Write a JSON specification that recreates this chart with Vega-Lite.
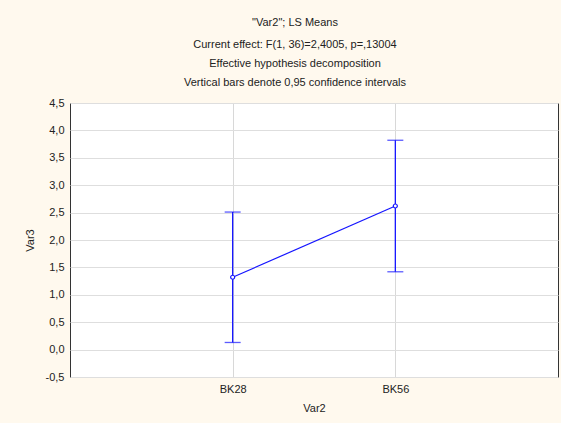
{
  "$schema": "https://vega.github.io/schema/vega-lite/v6.json",
  "width": 488,
  "height": 274,
  "autosize": {"type": "none"},
  "padding": {"left": 70, "top": 103, "right": 3, "bottom": 46},
  "background": "#FFF9EE",
  "config": {
    "locale": {"number": {"decimal": ",", "thousands": ".", "grouping": [3], "currency": ["", ""], "minus": "-"}},
    "font": "Liberation Sans",
    "view": {"stroke": "#333333", "strokeWidth": 1, "fill": "#ffffff"},
    "axisY": {"labelOverlap": false, "labelFlush": false, "labelBound": false}
  },
  "title": {
    "text": "\"Var2\"; LS Means",
    "subtitle": ["Current effect: F(1, 36)=2,4005, p=,13004", "Effective hypothesis decomposition", "Vertical bars denote 0,95 confidence intervals"],
    "fontSize": 11,
    "subtitleFontSize": 11,
    "fontWeight": "normal",
    "color": "#222222",
    "subtitleColor": "#222222",
    "subtitleFont": "Liberation Sans",
    "subtitleLineHeight": 19,
    "subtitlePadding": 11,
    "anchor": "middle",
    "dx": -19,
    "offset": 9
  },
  "data": {
    "values": [
      {"Var2": "BK28", "mean": 1.32, "lower": 0.13, "upper": 2.51},
      {"Var2": "BK56", "mean": 2.62, "lower": 1.42, "upper": 3.82}
    ]
  },
  "encoding": {
    "x": {
      "field": "Var2", "type": "nominal",
      "scale": {"type": "point", "padding": 1, "domain": ["BK28", "BK56"]},
      "axis": {"title": "Var2", "labelAngle": 0, "labelFontSize": 11, "labelColor": "#222222", "titleFontSize": 11, "titleFontWeight": "normal", "titleColor": "#222222", "labelPadding": 6, "titlePadding": 8, "tickSize": 0, "domain": false, "grid": true, "gridColor": "#d8d8d8"}
    },
    "y": {
      "field": "lower", "type": "quantitative",
      "scale": {"domain": [-0.5, 4.5], "nice": false, "zero": false},
      "axis": {"title": "Var3", "values": [-0.5, 0, 0.5, 1, 1.5, 2, 2.5, 3, 3.5, 4, 4.5], "format": ".1f", "labelOverlap": false, "labelFlush": false, "labelFontSize": 11, "labelColor": "#222222", "titleFontSize": 11, "titleFontWeight": "normal", "titleColor": "#222222", "tickSize": 0, "labelPadding": 6, "titlePadding": 10, "domain": false, "grid": true, "gridColor": "#dedede"}
    }
  },
  "layer": [
    {
      "mark": {"type": "rule", "color": "#1515ff", "strokeWidth": 1.3},
      "encoding": {
        "y2": {"field": "upper"}
      }
    },
    {
      "mark": {"type": "tick", "color": "#1515ff", "size": 16, "thickness": 1.3}
    },
    {
      "mark": {"type": "tick", "color": "#1515ff", "size": 16, "thickness": 1.3},
      "encoding": {"y": {"field": "upper", "type": "quantitative"}}
    },
    {
      "mark": {"type": "line", "color": "#1515ff", "strokeWidth": 1.2},
      "encoding": {"y": {"field": "mean", "type": "quantitative"}}
    },
    {
      "mark": {"type": "point", "shape": "circle", "size": 16, "color": "#1515ff", "fill": "#ffffff", "filled": false, "strokeWidth": 1.2, "opacity": 1},
      "encoding": {"y": {"field": "mean", "type": "quantitative"}}
    }
  ]
}
